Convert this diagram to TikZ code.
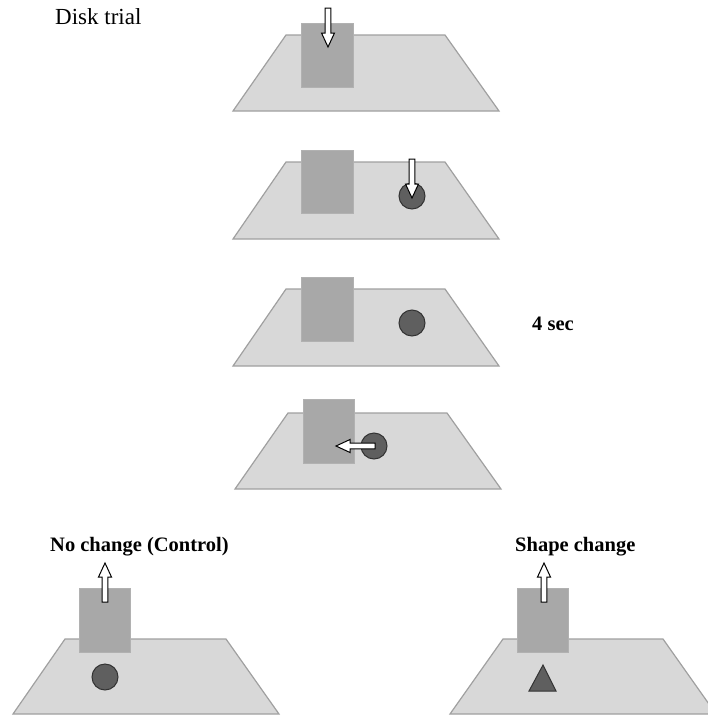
\documentclass[tikz,border=0pt]{standalone}
\usepackage{fontspec}
\setmainfont{Liberation Serif}
\definecolor{tablegray}{RGB}{216,216,216}
\definecolor{tableedge}{RGB}{160,160,160}
\definecolor{blockgray}{RGB}{168,168,168}
\definecolor{diskgray}{RGB}{95,95,95}
\begin{document}
\begin{tikzpicture}[
        x=1pt, y=-1pt,
        tabletop/.style={fill=tablegray, draw=tableedge, line width=1.2pt, line join=miter},
        blocknode/.style={fill=blockgray, draw=blockgray!90!white, line width=0.6pt},
        disknode/.style={fill=diskgray, draw=black!80, line width=1pt},
        titlenode/.style={font=\fontsize{23}{26}\selectfont, anchor=west, inner sep=0pt},
        labelnode/.style={font=\fontsize{20.5}{24}\selectfont\bfseries, anchor=west, inner sep=0pt},
        pusharrow/.pic={
            \draw[fill=white, draw=black, line width=1pt, line join=miter]
                (0,0) -- (-6.5,-14) -- (-2.8,-14) -- (-2.8,-39) -- (2.8,-39)
                -- (2.8,-14) -- (6.5,-14) -- cycle;
        },
        ]
        \useasboundingbox (0,0) rectangle (708,715);
        %Labels
        \node[titlenode] (title) at (55,17) {Disk trial};
        \node[labelnode] (delay) at (532,324) {4 sec};
        \node[labelnode] (control) at (50,547) {No change (Control)};
        \node[labelnode] (shape) at (515,547) {Shape change};

        %Tables
        \draw[tabletop] (286,35) -- ++(159,0) -- ++(54,76) -- ++(-266,0) -- cycle;
        \draw[tabletop] (286,162) -- ++(159,0) -- ++(54,77) -- ++(-266,0) -- cycle;
        \draw[tabletop] (286,289) -- ++(159,0) -- ++(54,77) -- ++(-266,0) -- cycle;
        \draw[tabletop] (288,413) -- ++(159,0) -- ++(54,76) -- ++(-266,0) -- cycle;
        \draw[tabletop] (65,639) -- ++(161,0) -- ++(53,75) -- ++(-266,0) -- cycle;
        \draw[tabletop] (503,639) -- ++(160,0) -- ++(53,75) -- ++(-266,0) -- cycle;

        %Blocks
        \draw[blocknode] (301,23) rectangle (353,87);
        \draw[blocknode] (301,150) rectangle (353,213);
        \draw[blocknode] (301,277) rectangle (353,341);
        \draw[blocknode] (303,399) rectangle (354,463);
        \draw[blocknode] (79,588) rectangle (130,652);
        \draw[blocknode] (517,588) rectangle (568,652);

        %Disks
        \draw[disknode] (412,196) circle (13);
        \draw[disknode] (412,323) circle (13);
        \draw[disknode] (374,446) circle (13);
        \draw[disknode] (105,677) circle (13);
        \draw[disknode] (543,665) -- (556,691) -- (529,691) -- cycle;

        %Arrows
        \pic at (328,47) {pusharrow};
        \pic at (412,198) {pusharrow};
        \pic[rotate=-90] at (336,446) {pusharrow};
        \pic[rotate=180] at (105,563) {pusharrow};
        \pic[rotate=180] at (544,563) {pusharrow};
    \end{tikzpicture}
\end{document}
